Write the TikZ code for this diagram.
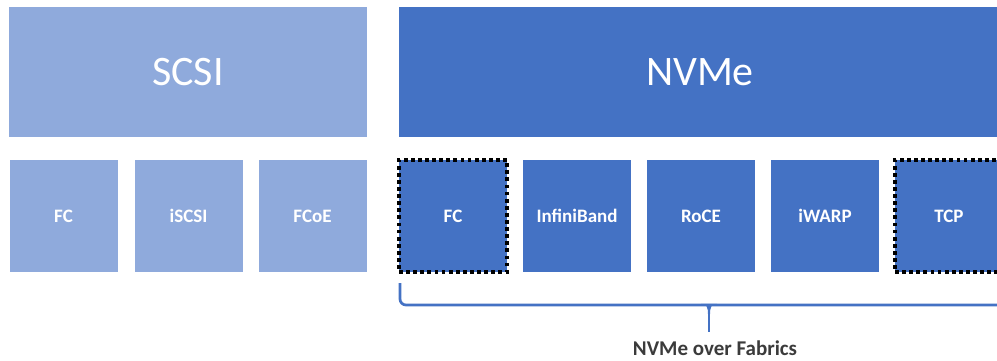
\documentclass[tikz,border=0pt]{standalone}
\usepackage{fontspec}
\setmainfont{Carlito}
\definecolor{scsiblue}{HTML}{8FAADC}
\definecolor{nvmeblue}{HTML}{4472C4}
\definecolor{captiongray}{HTML}{3B3B3B}
\tikzset{
  layer/.style={fill=#1, text=white, inner sep=0pt, minimum height=130pt,
    font=\fontsize{42}{46}\selectfont},
  fabric/.style={fill=#1, text=white, inner sep=0pt, minimum width=108pt,
    minimum height=112pt, font=\bfseries\fontsize{19}{21}\selectfont},
  nvmeof/.style={draw=black, line width=3.6pt, dash pattern=on 3.8pt off 3.3pt},
  bracket/.style={draw=nvmeblue, line width=2.7pt, rounded corners=6pt},
}
\begin{document}
\begin{tikzpicture}[x=1pt,y=-1pt]
\useasboundingbox (0,0) rectangle (997,360);
\clip (0,0) rectangle (997,360);

% upper layer: command sets
\node[layer=scsiblue, minimum width=358pt] (scsi) at (188,72) {SCSI};
\node[layer=nvmeblue, minimum width=602pt] (nvme) at (700,72) {NVMe};

% transports under SCSI
\node[fabric=scsiblue] (sfc)    at (63.5,216)  {FC};
\node[fabric=scsiblue] (siscsi) at (188.5,216) {iSCSI};
\node[fabric=scsiblue] (sfcoe)  at (312.5,216) {FCoE};

% transports under NVMe
\node[fabric=nvmeblue, nvmeof] (nfc)   at (453,216) {FC};
\node[fabric=nvmeblue] (nib)    at (577,216) {InfiniBand};
\node[fabric=nvmeblue] (nroce)  at (701,216) {RoCE};
\node[fabric=nvmeblue] (niwarp) at (825,216) {iWARP};
\node[fabric=nvmeblue, nvmeof] (ntcp)  at (949,216) {TCP};

% brace grouping the fabrics
\coordinate (bl) at (400,283);
\coordinate (br) at (1018,283);
\coordinate (btip) at (709,332);
\draw[bracket] (bl) -- (400,305) -- (1018,305) -- (br);
\fill[nvmeblue] (701,303.75) .. controls (707,304) and (708,308) .. (708,314)
  -- (710,314) .. controls (710,308) and (711,304) .. (717,303.75) -- cycle;
\draw[nvmeblue, line width=2.7pt] (709,305) -- (btip);
\node[text=captiongray, font=\bfseries\fontsize{21}{24}\selectfont, anchor=north]
  (caption) at (715,337) {NVMe over Fabrics};
\end{tikzpicture}
\end{document}
